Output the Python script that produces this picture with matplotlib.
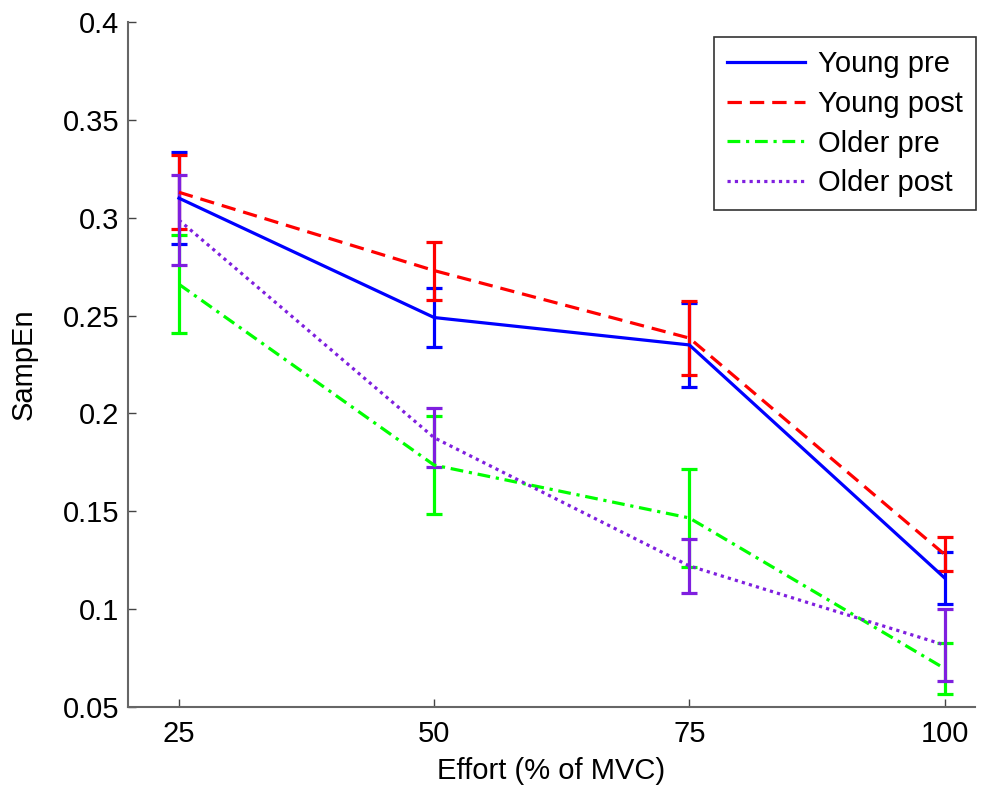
import matplotlib.pyplot as plt
from matplotlib.lines import Line2D

# effort levels (% of MVC)
effort = [25, 50, 75, 100]

# mean SampEn and error (half-length of error bars)
young_pre = [0.310, 0.249, 0.235, 0.116]
young_pre_err = [0.0235, 0.0153, 0.0213, 0.0133]
young_post = [0.313, 0.273, 0.2385, 0.128]
young_post_err = [0.019, 0.0148, 0.019, 0.0087]
older_pre = [0.266, 0.1736, 0.1466, 0.0697]
older_pre_err = [0.025, 0.025, 0.025, 0.013]
older_post = [0.2988, 0.1876, 0.1221, 0.0817]
older_post_err = [0.023, 0.015, 0.0137, 0.0185]

labels = ['Young pre', 'Young post', 'Older pre', 'Older post']
colors = ['#0000ff', '#ff0000', '#00ff00', '#7f1fdf']
styles = ['-', (0, (4.5, 2.5)), (0, (4, 1.8, 1, 1.8)), (0, (1, 1.3))]

plt.rcParams['font.family'] = ['Liberation Sans', 'DejaVu Sans']

fig = plt.figure(figsize=(9.84, 7.86), dpi=100)
ax = fig.add_axes([0.130, 0.1005, 0.861, 0.8715])

series = [(young_pre, young_pre_err), (young_post, young_post_err),
          (older_pre, older_pre_err), (older_post, older_post_err)]
handles = []
for (vals, errs), lab, c, ls in zip(series, labels, colors, styles):
    ax.errorbar(effort, vals, yerr=errs, color=c, linestyle=ls, linewidth=2.3,
                elinewidth=2.3, capsize=5.8, capthick=2.3)
    handles.append(Line2D([], [], color=c, linestyle=ls, linewidth=2.3, label=lab))

ax.set_xlim(20, 103)
ax.set_ylim(0.05, 0.4)
ax.set_xticks(effort)
ax.set_yticks([0.05, 0.1, 0.15, 0.2, 0.25, 0.3, 0.35, 0.4])
ax.set_yticklabels(['0.05', '0.1', '0.15', '0.2', '0.25', '0.3', '0.35', '0.4'])
ax.tick_params(direction='in', length=6, width=1, labelsize=21, colors='#444444',
               labelcolor='black')
ax.tick_params(axis='y', pad=6)
ax.tick_params(axis='x', pad=9)
for side in ['top', 'right']:
    ax.spines[side].set_visible(False)
for side in ['left', 'bottom']:
    ax.spines[side].set_color('#666666')
    ax.spines[side].set_linewidth(1.5)

ax.set_xlabel('Effort (% of MVC)', fontsize=21, labelpad=7)
ax.set_ylabel('SampEn', fontsize=21, labelpad=18)

leg = ax.legend(handles=handles, loc='upper right', bbox_to_anchor=(1.001, 0.978),
                fontsize=21, frameon=True, fancybox=False, edgecolor='black',
                handlelength=2.67, borderpad=0.45, labelspacing=0.4,
                handletextpad=0.45, borderaxespad=0)
leg.get_frame().set_linewidth(1.2)

fig.savefig('out.png', dpi=100)
